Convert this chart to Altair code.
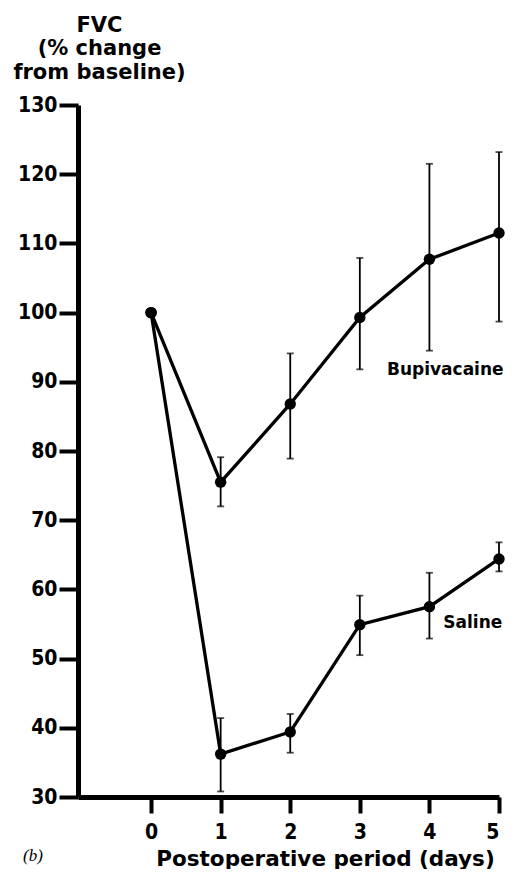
import altair as alt
import pandas as pd

# ---- data ----
days = [0, 1, 2, 3, 4, 5]
bup_mean = [100, 75.5, 86.8, 99.3, 107.7, 111.5]
sal_mean = [100, 36.2, 39.4, 54.9, 57.5, 64.4]

err_days = [1, 2, 3, 4, 5]
bup_lo = [72.0, 78.9, 91.8, 94.5, 98.7]
bup_hi = [79.1, 94.1, 107.9, 121.5, 123.2]
sal_lo = [30.8, 36.4, 50.5, 52.9, 62.6]
sal_hi = [41.4, 42.0, 59.1, 62.4, 66.8]

series_names = ["Bupivacaine", "Saline"]
label_x = [3.39, 4.2]
label_y = [91.7, 55.1]

x_ticks = [0, 1, 2, 3, 4, 5]
y_ticks = [30, 40, 50, 60, 70, 80, 90, 100, 110, 120, 130]

# ---- tables ----
means = pd.DataFrame({
    "day": days * 2,
    "value": bup_mean + sal_mean,
    "series": [series_names[0]] * len(days) + [series_names[1]] * len(days),
})
errs = pd.DataFrame({
    "day": err_days * 2,
    "lo": bup_lo + sal_lo,
    "hi": bup_hi + sal_hi,
    "series": [series_names[0]] * len(err_days) + [series_names[1]] * len(err_days),
})
labels = pd.DataFrame({"x": label_x, "y": label_y, "text": series_names})

FONT = "DejaVu Sans"

xs = alt.Scale(domain=[-1.05, 5], nice=False, zero=False)
ys = alt.Scale(domain=[30, 130], nice=False, zero=False)

x_axis = alt.Axis(
    values=x_ticks, format="d", title="Postoperative period (days)",
    tickSize=16, labelPadding=8, titleX=247, titleY=68,
    titleAlign="center", titleBaseline="alphabetic",
    titleFontSize=21.5, labelFont="DejaVu Sans Condensed", labelFontSize=21,
)
y_axis = alt.Axis(
    values=y_ticks, format="d", title=["FVC", "(% change", "from baseline)"],
    tickSize=19, labelPadding=2, titleAngle=0, titleX=21, titleY=-91,
    titleAlign="center", titleBaseline="top", titleLineHeight=23.5,
    titleFontSize=21, labelFont="DejaVu Sans Condensed", labelFontSize=21,
)

base = alt.Chart(means)

lines = base.mark_line(color="black", strokeWidth=3.3).encode(
    x=alt.X("day:Q", scale=xs, axis=x_axis),
    y=alt.Y("value:Q", scale=ys, axis=y_axis),
    detail="series:N",
)
points = base.mark_circle(color="black", size=130, opacity=1).encode(
    x=alt.X("day:Q", scale=xs),
    y=alt.Y("value:Q", scale=ys),
)

eb = alt.Chart(errs)
rules = eb.mark_rule(color="black", strokeWidth=1.8).encode(
    x=alt.X("day:Q", scale=xs),
    y=alt.Y("lo:Q", scale=ys),
    y2="hi:Q",
)
cap_lo = eb.mark_tick(color="black", orient="horizontal", size=7, thickness=1.8).encode(
    x=alt.X("day:Q", scale=xs),
    y=alt.Y("lo:Q", scale=ys),
)
cap_hi = eb.mark_tick(color="black", orient="horizontal", size=7, thickness=1.8).encode(
    x=alt.X("day:Q", scale=xs),
    y=alt.Y("hi:Q", scale=ys),
)

texts = alt.Chart(labels).mark_text(
    font=FONT, fontWeight="bold", fontSize=17, align="left", baseline="middle", color="black"
).encode(
    x=alt.X("x:Q", scale=xs),
    y=alt.Y("y:Q", scale=ys),
    text="text:N",
)

panel_tag = alt.Chart(pd.DataFrame({"t": ["(b)"]})).mark_text(
    font="Liberation Serif", fontStyle="italic", fontSize=17, align="left",
    baseline="alphabetic", color="black",
).encode(x=alt.value(-55), y=alt.value(756), text="t:N")

chart = alt.layer(rules, cap_lo, cap_hi, lines, points, texts, panel_tag).properties(
    width=421, height=692,
    autosize=alt.AutoSizeParams(type="none"),
    padding={"left": 70, "top": 97, "right": 8, "bottom": 72},
).configure_view(stroke=None).configure_axis(
    grid=False, domainColor="black", domainWidth=5, tickColor="black", tickWidth=4,
    labelColor="black", titleColor="black", labelFontWeight="bold",
    titleFont=FONT, titleFontWeight="bold",
)

chart.save("out.html", embed_options={"renderer": "svg", "actions": False})
